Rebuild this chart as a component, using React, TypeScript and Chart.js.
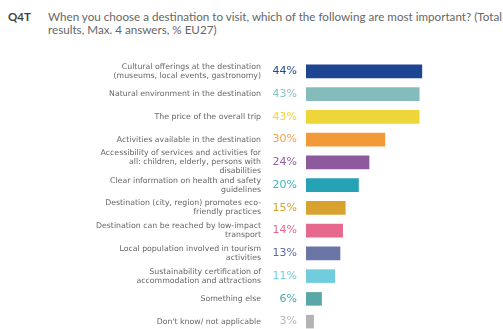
import React, { useEffect, useRef } from "react";
import { Chart, registerables } from "chart.js";

Chart.register(...registerables);

const categories: (string | string[])[] = [
  ["Cultural offerings at the destination", "(museums, local events, gastronomy)"],
  "Natural environment in the destination",
  "The price of the overall trip",
  "Activities available in the destination",
  ["Accessibility of services and activities for", "all: children, elderly, persons with", "disabilities"],
  ["Clear information on health and safety", "guidelines"],
  ["Destination (city, region) promotes eco-", "friendly practices"],
  ["Destination can be reached by low-impact", "transport"],
  ["Local population involved in tourism", "activities"],
  ["Sustainability certification of", "accommodation and attractions"],
  "Something else",
  "Don't know/ not applicable",
];

const values: number[] = [44, 43, 43, 30, 24, 20, 15, 14, 13, 11, 6, 3];

const barColors: string[] = [
  "#1d4591", "#84bcbc", "#eed63a", "#f39a38", "#8e5a9e", "#26a2b5",
  "#d9a230", "#e6698d", "#6b76a7", "#70cddd", "#5ba6a6", "#b3b3b3",
];

const valueColors: string[] = [
  "#1e4a94", "#88c4c4", "#eed53a", "#f5a04a", "#9a5aa4", "#3fb4c8",
  "#d9a22e", "#e8688c", "#5a6aa0", "#6fd0e0", "#4aa8a8", "#b8b8b8",
];

const valueLabelPlugin = {
  id: "valueLabels",
  afterDatasetsDraw(chart: any) {
    const ctx = chart.ctx;
    const meta = chart.getDatasetMeta(0);
    ctx.save();
    ctx.font = "11px 'DejaVu Sans'";
    ctx.textAlign = "right";
    ctx.textBaseline = "middle";
    meta.data.forEach((bar: any, i: number) => {
      ctx.fillStyle = valueColors[i];
      ctx.fillText(values[i] + "%", bar.base - 9, bar.y);
    });
    ctx.restore();
  },
};

export default function App() {
  const ref = useRef<HTMLCanvasElement | null>(null);
  useEffect(() => {
    if (!ref.current) return;
    const chart = new Chart(ref.current, {
      type: "bar",
      data: {
        labels: categories,
        datasets: [
          {
            data: values,
            backgroundColor: barColors,
            barPercentage: 0.595,
            categoryPercentage: 1,
          },
        ],
      },
      options: {
        indexAxis: "y",
        animation: false,
        responsive: false,
        maintainAspectRatio: false,
        layout: { padding: { left: 0, right: 65, top: 60, bottom: 7 } },
        plugins: { legend: { display: false }, tooltip: { enabled: false } },
        scales: {
          x: { display: false, min: 0, max: 50 },
          y: {
            grid: { display: false, drawTicks: false },
            border: { display: false },
            ticks: {
              padding: 45,
              color: "#666666",
              font: { family: "'DejaVu Sans'", size: 7.8, lineHeight: 1.15 },
              autoSkip: false,
            },
            afterFit: (scale: any) => {
              scale.width = 306;
              scale.paddingTop = 0;
              scale.paddingBottom = 0;
            },
          },
        },
      },
      plugins: [valueLabelPlugin],
    });
    return () => chart.destroy();
  }, []);

  return (
    <div style={{ position: "absolute", left: 0, top: 0, width: 503, height: 340, background: "#fff" }}>
      <div
        style={{
          position: "absolute",
          left: 8,
          top: 10,
          fontFamily: "Lato, sans-serif",
          fontWeight: 700,
          fontSize: 11.5,
          color: "#444",
        }}
      >
        Q4T
      </div>
      <div
        style={{
          position: "absolute",
          left: 48,
          top: 10,
          width: 460,
          fontFamily: "Lato, sans-serif",
          fontSize: 11.65,
          lineHeight: "13px",
          color: "#666",
          whiteSpace: "nowrap",
        }}
      >
        When you choose a destination to visit, which of the following are most important? (Total
        <br />
        results, Max. 4 answers, % EU27)
      </div>
      <canvas ref={ref} width={503} height={340} style={{ position: "absolute", left: 0, top: 0 }} />
    </div>
  );
}
